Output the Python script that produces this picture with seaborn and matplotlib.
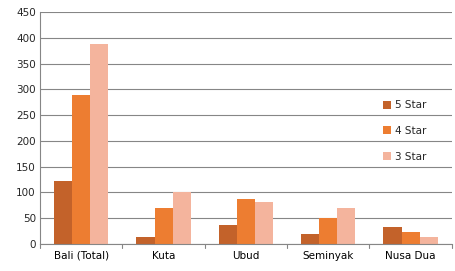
import matplotlib
matplotlib.use("Agg")
import matplotlib.pyplot as plt
import seaborn as sns
import pandas as pd
from matplotlib.ticker import MultipleLocator

categories = ["Bali (Total)", "Kuta", "Ubud", "Seminyak", "Nusa Dua"]
series = ["5 Star", "4 Star", "3 Star"]
star5 = [122, 14, 37, 20, 33]
star4 = [289, 70, 87, 50, 23]
star3 = [388, 100, 81, 70, 14]
colors = ["#C3622A", "#ED7D31", "#F4B49D"]

rows = []
for s, vals in zip(series, [star5, star4, star3]):
    for c, v in zip(categories, vals):
        rows.append({"Location": c, "Class": s, "Value": v})
df = pd.DataFrame(rows)

sns.set_style("white")
plt.rcParams["font.family"] = ["DejaVu Sans"]

fig = plt.figure(figsize=(4.55, 2.71), dpi=100)
ax = fig.add_axes([0.088, 0.0996, 0.905, 0.856])
sns.barplot(data=df, x="Location", y="Value", hue="Class", palette=colors,
            width=0.66, gap=0, saturation=1, ax=ax, order=categories, hue_order=series,
            linewidth=0, edgecolor="none")

ax.set_ylim(0, 450)
ax.set_xlim(-0.5, 4.5)
ax.yaxis.set_major_locator(MultipleLocator(50))
ax.grid(axis="y", color="#868686", linewidth=0.8)
ax.set_axisbelow(True)
for sp in ["top", "right"]:
    ax.spines[sp].set_visible(False)
ax.spines["left"].set_color("#868686")
ax.spines["bottom"].set_color("#868686")
ax.set_xlabel("")
ax.set_ylabel("")
ax.set_xticks(range(len(categories)))
ax.set_xticklabels(categories)
ax.tick_params(axis="x", length=0, labelsize=7.5, pad=5, colors="#000000")
ax.tick_params(axis="y", length=0, labelsize=7.5, pad=3)
for b in [-0.5 + i for i in range(6)]:
    ax.plot([b, b], [0, -0.018], transform=ax.get_xaxis_transform(), color="#868686",
            linewidth=0.8, clip_on=False)

leg = ax.legend(loc="upper left", bbox_to_anchor=(0.81, 0.66), frameon=False,
                fontsize=7.5, labelspacing=1.5, handlelength=0.8, handleheight=0.8,
                handletextpad=0.4)
fig.savefig("out.png", dpi=100)
